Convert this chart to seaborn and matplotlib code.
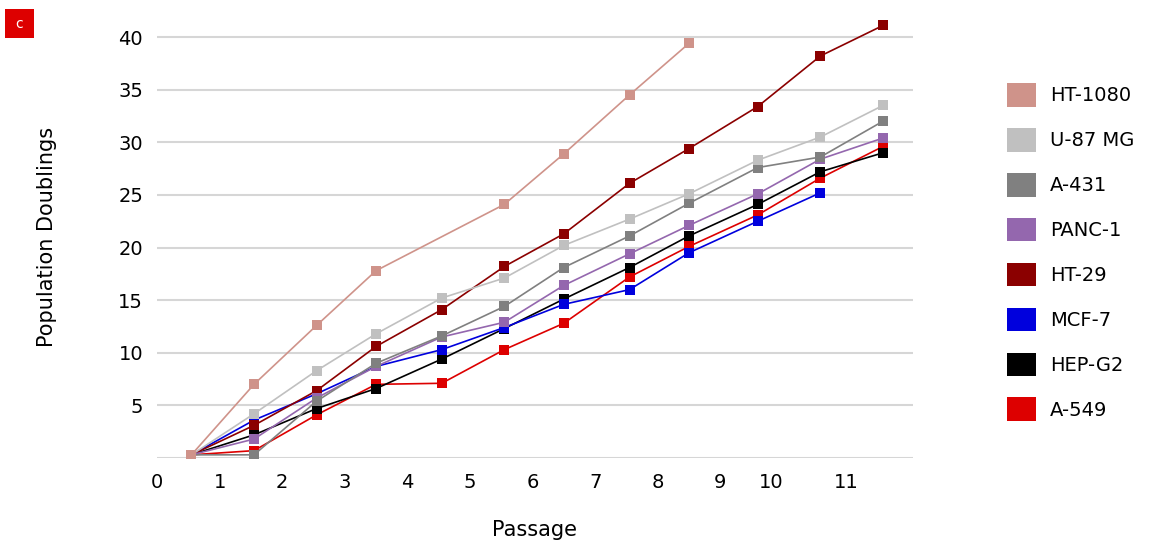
import pandas as pd
import numpy as np
import matplotlib.pyplot as plt
from matplotlib.patches import Patch, Rectangle
import seaborn as sns

# passage positions of the measured points and the axis tick labels
passage = [0.55, 1.55, 2.55, 3.5, 4.55, 5.55, 6.5, 7.55, 8.5, 9.6, 10.6, 11.6]
tick_pos = [0, 1, 2, 3, 4, 5, 6, 7, 8, 9, 9.81, 11.02]
tick_labels = ["0", "1", "2", "3", "4", "5", "6", "7", "8", "9", "10", "11"]

nan = np.nan
ht1080 = [0.3, 7.0, 12.6, 17.8, nan, 24.1, 28.9, 34.5, 39.4, nan, nan, nan]
u87mg = [0.3, 4.2, 8.3, 11.8, 15.2, 17.1, 20.2, 22.7, 25.1, 28.3, 30.5, 33.5]
a431 = [0.3, 0.3, 5.4, 9.0, 11.6, 14.4, 18.1, 21.1, 24.2, 27.6, 28.6, 32.0]
panc1 = [0.3, 1.8, 5.7, 8.7, 11.5, 12.9, 16.4, 19.4, 22.1, 25.1, 28.4, 30.4]
ht29 = [0.3, 3.1, 6.4, 10.6, 14.1, 18.2, 21.3, 26.1, 29.4, 33.4, 38.2, 41.1]
mcf7 = [0.3, 3.6, 6.1, 8.7, 10.3, 12.4, 14.6, 16.0, 19.5, 22.5, 25.2, nan]
hepg2 = [0.3, 2.2, 4.7, 6.6, 9.4, 12.3, 15.1, 18.1, 21.1, 24.1, 27.2, 29.0]
a549 = [0.3, 0.7, 4.1, 7.0, 7.1, 10.3, 12.8, 17.2, 20.1, 23.1, 26.6, 29.6]

names = ["HT-1080", "U-87 MG", "A-431", "PANC-1", "HT-29", "MCF-7", "HEP-G2", "A-549"]
series = [ht1080, u87mg, a431, panc1, ht29, mcf7, hepg2, a549]
colors = ["#CF938A", "#C0C0C0", "#808080", "#9467AE", "#8B0000", "#0000DD", "#000000", "#DD0000"]

rows = []
for name, vals in zip(names, series):
    for p, v in zip(passage, vals):
        rows.append({"Passage": p, "PD": v, "line": name})
df = pd.DataFrame(rows).dropna()

sns.set_theme(style="white")
plt.rcParams["font.family"] = ["DejaVu Sans"]

fig = plt.figure(figsize=(11.56, 5.44), dpi=100)
ax = fig.add_axes([157 / 1156, 1 - 458 / 544, (913 - 157) / 1156, (458 - 16) / 544])

palette = dict(zip(names, colors))
# draw back to front so A-549 ends on top
sns.lineplot(data=df, x="Passage", y="PD", hue="line", hue_order=names[::-1],
             palette=palette, marker="s", markersize=7, markeredgewidth=0,
             linewidth=1.2, sort=True, estimator=None, legend=False, ax=ax)

ax.set_xlim(0, 12.08)
ax.set_ylim(0, 42)
ax.set_xticks(tick_pos)
ax.set_xticklabels(tick_labels)
ax.set_yticks(range(0, 41, 5))
ax.set_yticklabels([""] + [str(v) for v in range(5, 41, 5)])
ax.tick_params(axis="both", length=0, labelsize=14, colors="#000000")
ax.tick_params(axis="x", pad=11)
ax.tick_params(axis="y", pad=10)
ax.yaxis.grid(True, color="#D6D6D6", linewidth=1.5)
ax.xaxis.grid(False)
ax.set_axisbelow(True)
for s in ax.spines.values():
    s.set_visible(False)

ax.set_xlabel("Passage", fontsize=15, labelpad=20, color="#000000")
ax.set_ylabel("Population Doublings", fontsize=15, labelpad=44, color="#000000")

handles = [Patch(facecolor=c, edgecolor="none") for c in colors]
fig.legend(handles, names, loc="upper left", bbox_to_anchor=(1007 / 1156, 1 - 83 / 544),
           frameon=False, fontsize=14, handlelength=1.5, handleheight=1.5,
           labelspacing=1.09, handletextpad=0.7, borderpad=0, borderaxespad=0,
           labelcolor="#000000")

# panel tag
fig.patches.append(Rectangle((5 / 1156, 1 - 38 / 544), 29 / 1156, 29 / 544,
                             transform=fig.transFigure, facecolor="#DD0000", edgecolor="none"))
fig.text(19.5 / 1156, 1 - 23.5 / 544, "c", color="white", fontsize=10, ha="center", va="center")

fig.savefig("out.png", dpi=100)
